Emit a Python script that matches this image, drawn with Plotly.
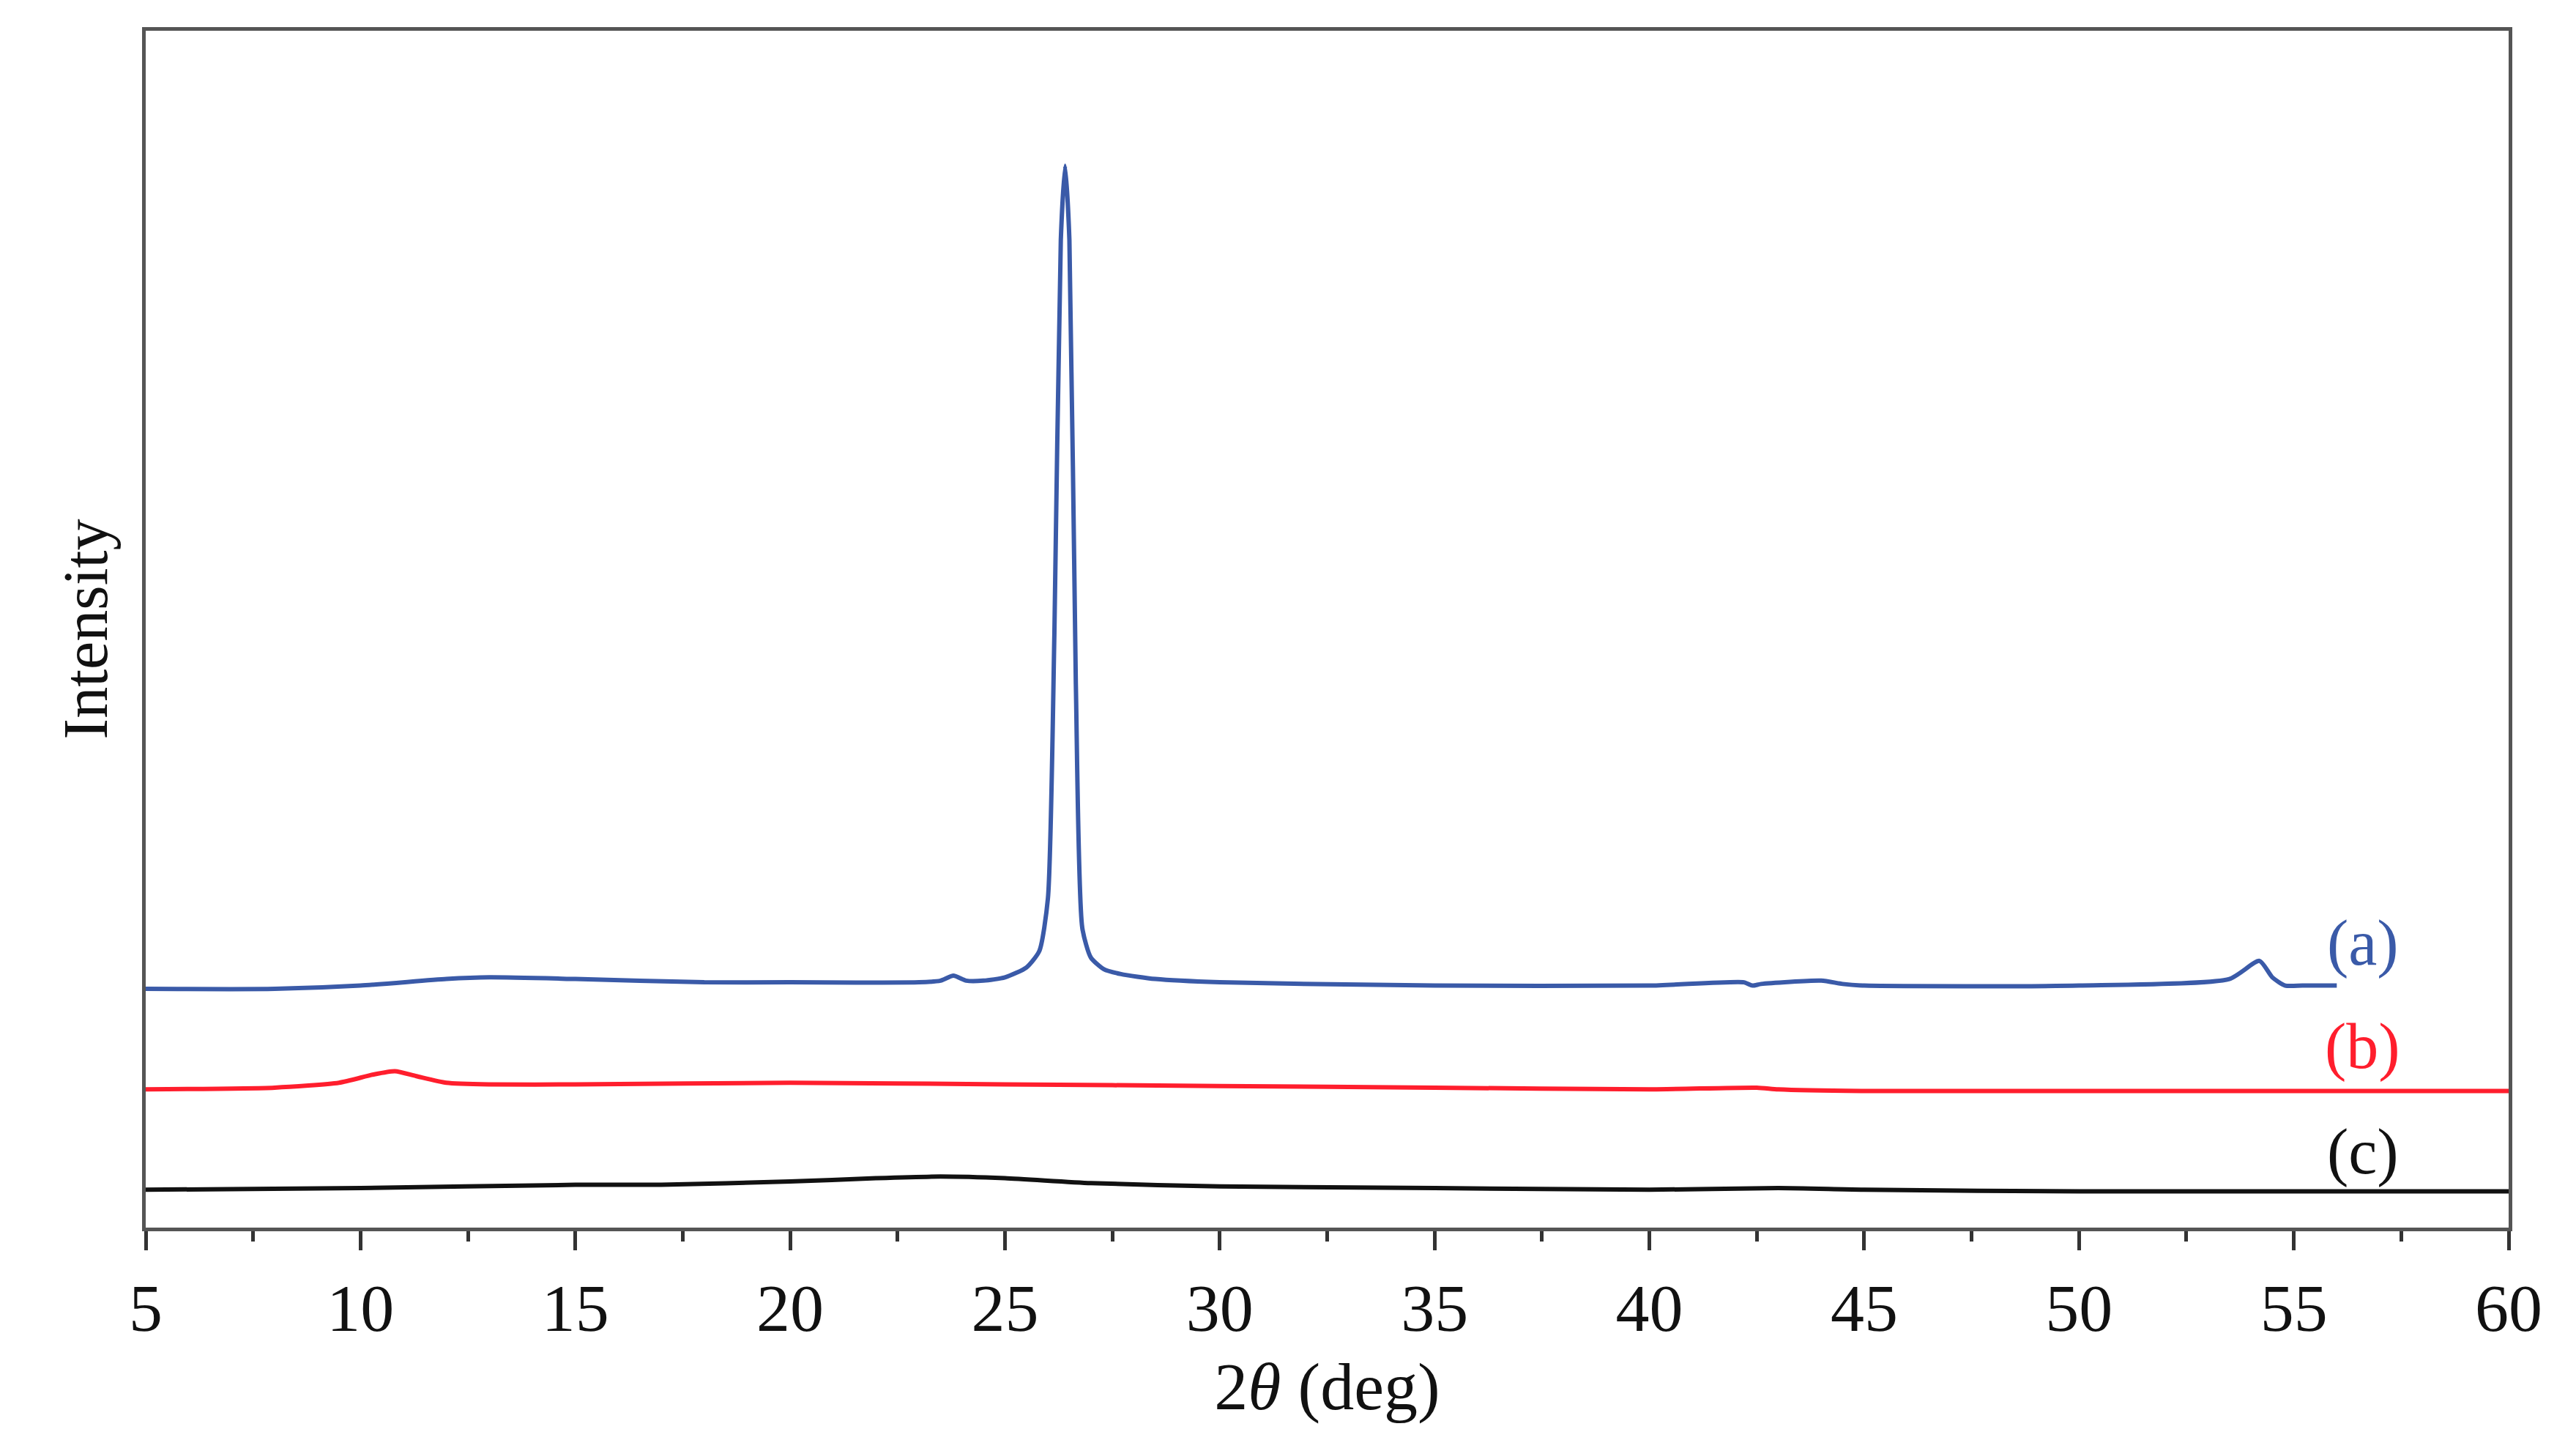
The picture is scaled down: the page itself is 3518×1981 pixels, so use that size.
import plotly.graph_objects as go

# XRD patterns, intensity in arbitrary units
x_a = [5, 8, 10, 12, 13, 15, 18, 20, 23, 23.5, 23.8, 24.1, 24.5, 25, 25.5, 25.8, 26.0, 26.15, 26.3,
       26.4, 26.5, 26.65, 26.8, 27.0, 27.3, 27.7, 28.5, 30, 35, 40, 42.2, 42.4, 42.6, 44, 44.5, 45, 50,
       53.5, 54.2, 54.5, 54.8, 55.2, 56, 60]
y_a = [145, 145, 147, 151, 152, 151, 149, 149, 149, 150, 153, 150, 150, 152, 158, 168, 200, 360, 600,
       645, 600, 330, 182, 164, 157, 154, 151, 149, 147, 147, 149, 147, 148, 150, 148, 147,
       147, 151, 162, 152, 147, 147, 147]

x_b = [5, 8, 9.5, 10.3, 10.8, 11.3, 12, 13, 15, 20, 25, 30, 35, 40, 42.5, 43, 45, 50, 60]
y_b = [84, 85, 88, 93, 95, 92, 88, 87, 87, 88, 87, 86, 85, 84, 85, 84, 83, 83, 83]

x_c = [5, 10, 15, 17, 20, 22, 23.5, 25, 27, 30, 35, 40, 43, 45, 50, 60]
y_c = [23, 24, 26, 26, 28, 30, 31, 30, 27, 25, 24, 23, 24, 23, 22, 22]

labels = ["(a)", "(b)", "(c)"]
label_x = [56.6, 56.6, 56.6]
label_y = [173, 110, 46]
colors = ["#3a5aa8", "#ff1e2d", "#111111"]

serif = "Liberation Serif"

fig = go.Figure()
for xs, ys, col in [(x_a, y_a, colors[0]), (x_b, y_b, colors[1]), (x_c, y_c, colors[2])]:
    fig.add_trace(go.Scatter(x=xs, y=ys, mode='lines',
                             line=dict(color=col, width=6, shape='spline', smoothing=0.6),
                             showlegend=False))

for t, lx, ly, col in zip(labels, label_x, label_y, colors):
    fig.add_annotation(x=lx, y=ly, text=t, showarrow=False,
                       font=dict(family=serif, size=88, color=col))

fig.update_layout(width=3518, height=1981,
                  plot_bgcolor="#fff", paper_bgcolor="#fff",
                  font=dict(family=serif, color="#111"),
                  margin=dict(l=191, r=100, t=34, b=313))

fig.update_xaxes(range=[5, 60], tick0=5, dtick=5, ticks="outside", ticklen=26, tickwidth=5,
                 tickcolor="#333", showline=True, linewidth=5, linecolor="#555", mirror=True,
                 showgrid=False, zeroline=False, tickfont=dict(size=92, family=serif),
                 minor=dict(dtick=2.5, ticks="outside", ticklen=14, tickwidth=5, tickcolor="#333"),
                 title=dict(text="2<i>θ</i> (deg)", font=dict(size=92, family=serif), standoff=25))

fig.update_yaxes(range=[0, 727], showticklabels=False, ticks="", showline=True, linewidth=5,
                 linecolor="#555", mirror=True, showgrid=False, zeroline=False,
                 title=dict(text="Intensity", font=dict(size=86, family=serif), standoff=20))

fig.write_html("out.html")
